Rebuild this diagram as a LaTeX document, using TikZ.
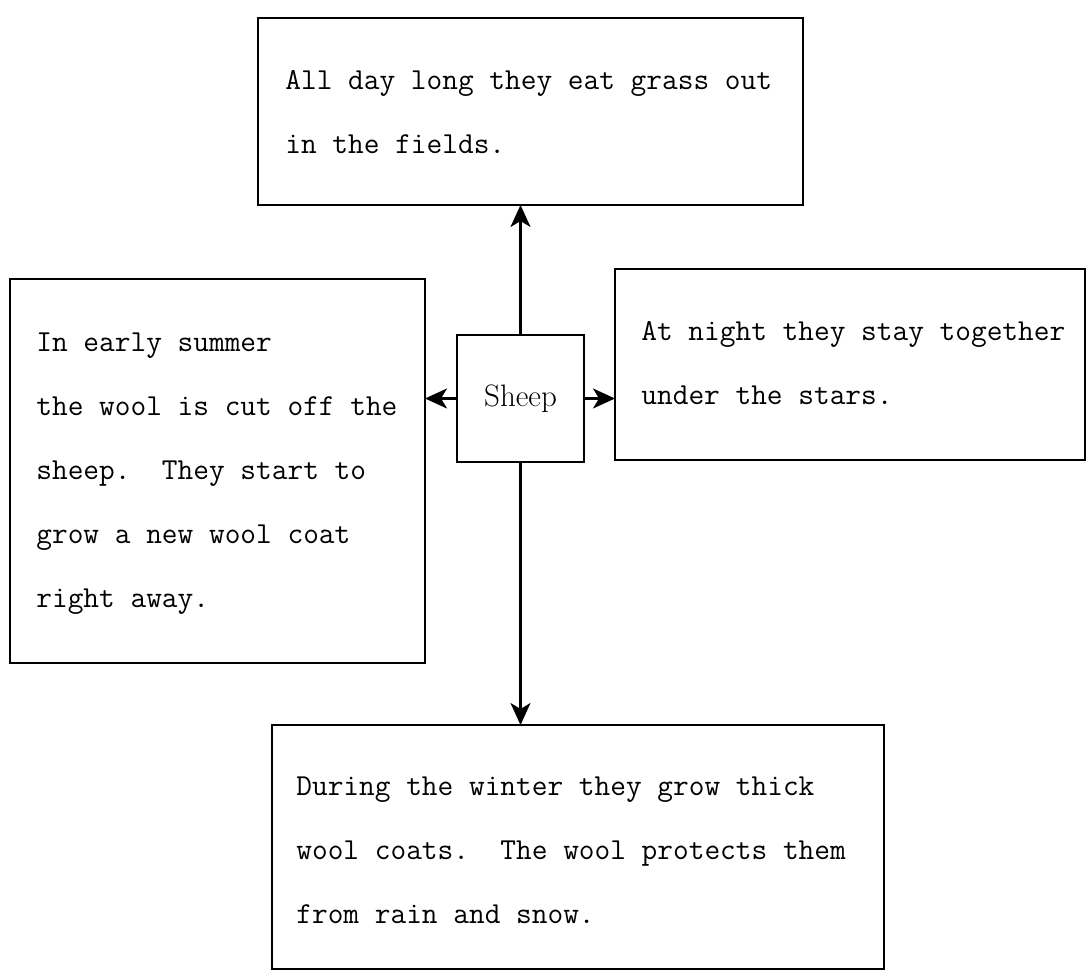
\documentclass[tikz,border=0pt]{standalone}
\usepackage{tikz}
\usetikzlibrary{arrows.meta,positioning}
\tikzset{
  card/.style={draw, line width=1.1pt, inner sep=0pt, outer sep=0pt, anchor=north west},
  ctr/.style={draw, line width=1.1pt, inner sep=0pt, outer sep=0pt,
              minimum width=63.5pt, minimum height=63.5pt, font=\fontsize{15.5}{18}\selectfont},
  body/.style={inner sep=0pt, anchor=north west, align=left,
               font=\fontsize{15.24}{32}\selectfont\ttfamily},
  arr/.style={-{Stealth[length=11pt, width=10pt, inset=3pt]}, line width=1.1pt},
}

\begin{document}
\begin{tikzpicture}[x=0.5pt, y=-0.5pt]
    \useasboundingbox (0,0) rectangle (1090,977);
    \node[ctr] (sheep) at (520.5,398.5) {Sheep};
    \node[card, minimum width=272.5pt, minimum height=93.5pt] (grass) at (258,18) {};
    \node[card, minimum width=207.5pt, minimum height=192pt] (shear) at (10,279) {};
    \node[card, minimum width=235pt, minimum height=95.5pt] (night) at (615,269) {};
    \node[card, minimum width=306pt, minimum height=122pt] (winter) at (272,725) {};
    \node[body] (grasstxt) at (285,70.4) {All day long they eat grass out\\in the fields.};
    \node[body] (sheartxt) at (36,332.4) {In early summer\\the wool is cut off the\\sheep.~~They start to\\grow a new wool coat\\right away.};
    \node[body] (nighttxt) at (641,321.4) {At night they stay together\\under the stars.};
    \node[body] (wintertxt) at (296,776.4) {During the winter they grow thick\\wool coats.~~The wool protects them\\from rain and snow.};
    \draw[arr] (sheep.north) -- (sheep.north |- grass.south);
    \draw[arr] (sheep.west) -- (sheep.west -| shear.east);
    \draw[arr] (sheep.east) -- (sheep.east -| night.west);
    \draw[arr] (sheep.south) -- (sheep.south |- winter.north);
\end{tikzpicture}
\end{document}
